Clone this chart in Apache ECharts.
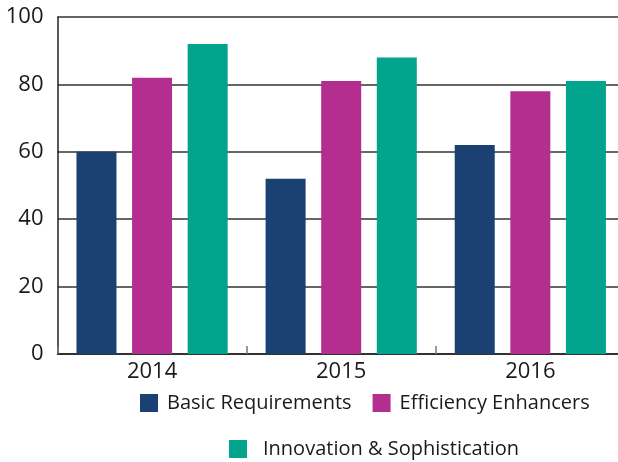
<!DOCTYPE html>
<html><head><meta charset="utf-8">
<script src="https://cdn.jsdelivr.net/npm/echarts@6/dist/echarts.min.js"></script>
<style>html,body{margin:0;padding:0;background:#fff}#c{width:618px;height:462px}</style>
</head><body><div id="c"></div>
<script>
const categories = ['2014', '2015', '2016'];
const basic = [60, 52, 62];
const efficiency = [82, 81, 78];
const innovation = [92, 88, 81];
const yTicks = [0, 20, 40, 60, 80, 100];

const font = '"Open Sans", "Noto Sans", sans-serif';
const chart = echarts.init(document.getElementById('c'), null, {renderer: 'canvas'});
chart.setOption({
  animation: false,
  grid: {left: 57.5, right: -6.9, top: 17, bottom: 108, containLabel: false, outerBoundsMode: 'none'},
  legend: [
    {data: ['Basic Requirements', 'Efficiency Enhancers'], left: 140, top: 393, itemWidth: 18, itemHeight: 18, itemGap: 21, padding: 0,
     icon: 'rect', textStyle: {fontFamily: font, fontSize: 20, color: '#1a1a1a', padding: [0,0,0,4]}},
    {data: ['Innovation & Sophistication'], left: 229, top: 439, itemWidth: 18, itemHeight: 18, padding: 0,
     icon: 'rect', textStyle: {fontFamily: font, fontSize: 20, color: '#1a1a1a', padding: [0,0,0,11]}}
  ],
  xAxis: {
    type: 'category', data: categories,
    axisLine: {lineStyle: {color: '#222', width: 1.5}},
    axisTick: {show: true, inside: true, length: 8, lineStyle: {color: '#777', width: 1.5}},
    axisLabel: {fontFamily: font, fontSize: 22, color: '#1a1a1a', margin: 7}
  },
  yAxis: {
    type: 'value', min: yTicks[0], max: yTicks[yTicks.length - 1], interval: 20,
    axisLine: {show: true, lineStyle: {color: '#222', width: 1.5}},
    axisTick: {show: false},
    splitLine: {lineStyle: {color: '#333', width: 1.5}},
    axisLabel: {fontFamily: font, fontSize: 22, color: '#1a1a1a', margin: 14}
  },
  series: [
    {name: 'Basic Requirements', type: 'bar', data: basic, barWidth: 40, barGap: '39%', itemStyle: {color: '#1B4072'}},
    {name: 'Efficiency Enhancers', type: 'bar', data: efficiency, barWidth: 40, barGap: '39%', itemStyle: {color: '#B32E8F'}},
    {name: 'Innovation & Sophistication', type: 'bar', data: innovation, barWidth: 40, barGap: '39%', itemStyle: {color: '#02A48D'}}
  ]
});
</script></body></html>
